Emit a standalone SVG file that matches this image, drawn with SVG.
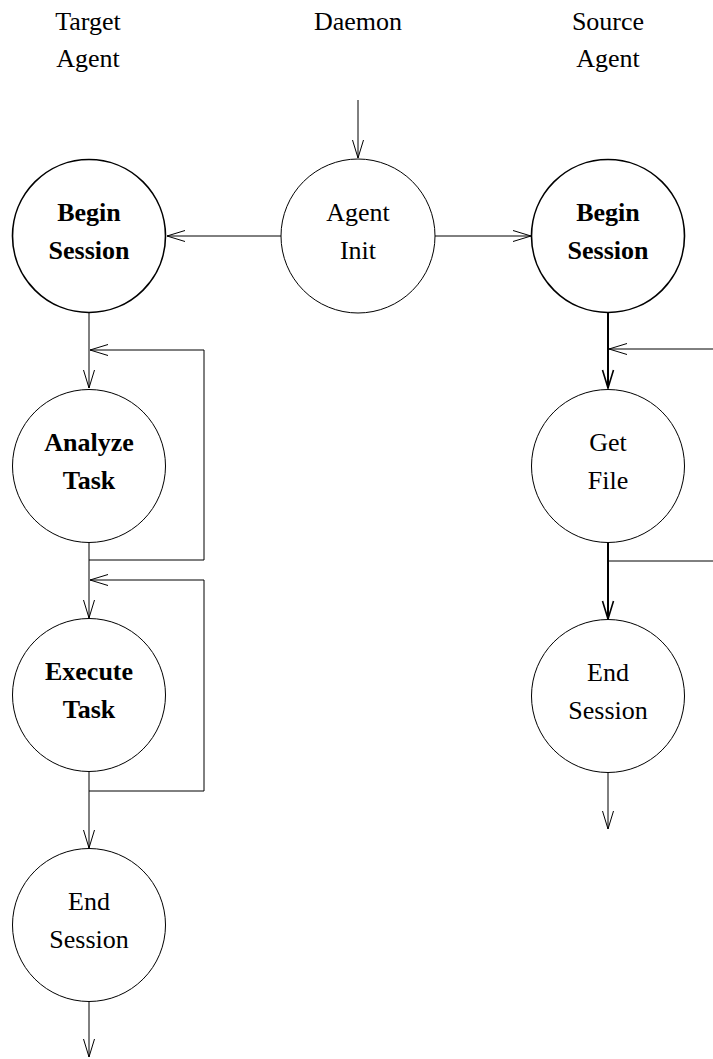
<svg xmlns="http://www.w3.org/2000/svg" width="713" height="1059" viewBox="0 0 713 1059">
<defs>
<style>
text{font-size:26px;text-anchor:middle;fill:#000}
.b{font-weight:bold}
.n{fill:#fff;stroke:#000;stroke-width:1}
.nb{fill:#fff;stroke:#000;stroke-width:1.6}
.c{fill:none;stroke:#000;stroke-width:1}
.ct{fill:none;stroke:#000;stroke-width:2}
</style>
<marker id="a" markerUnits="userSpaceOnUse" markerWidth="24" markerHeight="16" viewBox="-20 -8 22 16" refX="0" refY="0" orient="auto" overflow="visible">
<path d="M-18,-5.5 L0,0 L-18,5.5" fill="none" stroke="#000" stroke-width="1"/>
</marker>
<marker id="at" markerUnits="userSpaceOnUse" markerWidth="24" markerHeight="16" viewBox="-20 -8 22 16" refX="0" refY="0" orient="auto" overflow="visible">
<path d="M-18,-5.5 L0,0 L-18,5.5" fill="none" stroke="#000" stroke-width="1.6"/>
</marker>
</defs>
<rect width="713" height="1059" fill="#fff"/>
<g font-family="Liberation Serif">
<g id="headers">
<text x="88" y="30">Target</text>
<text x="88" y="67">Agent</text>
<text x="358" y="30">Daemon</text>
<text x="608" y="30">Source</text>
<text x="608" y="67">Agent</text>
</g>
<g id="connectors">
<path class="c" d="M358,100 V158" marker-end="url(#a)"/>
<path class="c" d="M281,236 H167" marker-end="url(#a)"/>
<path class="c" d="M435,236 H531" marker-end="url(#a)"/>
<path class="c" d="M89,312 V388" marker-end="url(#a)"/>
<path class="c" d="M89,560 H204 V350 H90" marker-end="url(#a)"/>
<path class="c" d="M89,542 V618" marker-end="url(#a)"/>
<path class="c" d="M89,791 H204 V580 H90" marker-end="url(#a)"/>
<path class="c" d="M89,772 V848" marker-end="url(#a)"/>
<path class="c" d="M89,1002 V1057" marker-end="url(#a)"/>
<path class="ct" d="M608,312 V388" marker-end="url(#at)"/>
<path class="c" d="M713,349 H609" marker-end="url(#a)"/>
<path class="ct" d="M608,543 V619" marker-end="url(#at)"/>
<path class="c" d="M608,561 H713"/>
<path class="c" d="M608,773 V829" marker-end="url(#a)"/>
</g>
<g id="agent-init">
<circle class="n" cx="358" cy="236" r="77"/>
<text x="358" y="221">Agent</text>
<text x="358" y="259">Init</text>
</g>
<g id="target-begin">
<circle class="nb" cx="89" cy="236" r="76.5"/>
<text class="b" x="89" y="221">Begin</text>
<text class="b" x="89" y="259">Session</text>
</g>
<g id="target-analyze">
<circle class="n" cx="89" cy="466" r="76.5"/>
<text class="b" x="89" y="451">Analyze</text>
<text class="b" x="89" y="489">Task</text>
</g>
<g id="target-execute">
<circle class="n" cx="89" cy="695" r="76.5"/>
<text class="b" x="89" y="680">Execute</text>
<text class="b" x="89" y="718">Task</text>
</g>
<g id="target-end">
<circle class="n" cx="89" cy="925" r="76.5"/>
<text x="89" y="910">End</text>
<text x="89" y="948">Session</text>
</g>
<g id="source-begin">
<circle class="nb" cx="608" cy="236" r="76.5"/>
<text class="b" x="608" y="221">Begin</text>
<text class="b" x="608" y="259">Session</text>
</g>
<g id="source-getfile">
<circle class="n" cx="608" cy="466" r="76.5"/>
<text x="608" y="451">Get</text>
<text x="608" y="489">File</text>
</g>
<g id="source-end">
<circle class="n" cx="608" cy="696" r="76.5"/>
<text x="608" y="681">End</text>
<text x="608" y="719">Session</text>
</g>
</g>
</svg>
